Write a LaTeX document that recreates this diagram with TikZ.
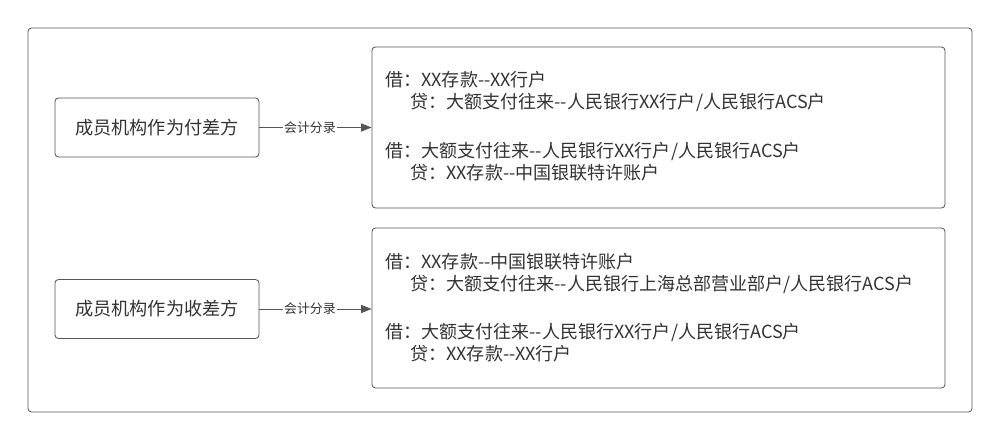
\documentclass[tikz,border=0pt]{standalone}
\usepackage{fontspec}
\setmainfont{Noto Sans CJK SC}
\usetikzlibrary{arrows.meta}
\definecolor{tx}{HTML}{333333}
\definecolor{ln}{HTML}{555555}
\newcommand{\dd}{{-}{-}}
\tikzset{
  boxst/.style={draw=ln,line width=0.7pt,rounded corners=3pt},
  txt/.style={anchor=west,inner sep=0,text=tx,font=\fontsize{15.4pt}{17pt}\selectfont},
  lab/.style={fill=white,inner sep=1pt,text=tx,font=\fontsize{11pt}{12pt}\selectfont},
  arr/.style={draw=ln,line width=0.7pt,-{Triangle[length=9pt,width=7pt]}}
}
\begin{document}
\begin{tikzpicture}[x=0.03cm,y=-0.03cm]
\useasboundingbox (0,0) rectangle (1000,441);
\draw[boxst] (28,28) rectangle (972,412);
\node[boxst,minimum width=204*0.03cm,minimum height=59*0.03cm,text=tx,font=\fontsize{15.5pt}{17pt}\selectfont] (a) at (157,127.5) {成员机构作为付差方};
\node[boxst,minimum width=204*0.03cm,minimum height=59*0.03cm,text=tx,font=\fontsize{15.5pt}{17pt}\selectfont] (b) at (157,309) {成员机构作为收差方};
\node[boxst,minimum width=573*0.03cm,minimum height=161*0.03cm] (c) at (658.5,127.5) {};
\node[boxst,minimum width=573*0.03cm,minimum height=160*0.03cm] (d) at (658.5,308) {};
\draw[arr] (a.east) -- node[lab,pos=0.45]{会计分录} (a.east -| c.west);
\draw[arr] (b.east) -- node[lab,pos=0.45]{会计分录} (b.east -| d.west);
\node[txt] (t1) at (385,80) {借：XX存款\dd XX行户};
\node[txt] (t2) at (410,102) {贷：大额支付往来\dd 人民银行XX行户/人民银行ACS户};
\node[txt] (t3) at (385,151) {借：大额支付往来\dd 人民银行XX行户/人民银行ACS户};
\node[txt] (t4) at (410,173) {贷：XX存款\dd 中国银联特许账户};
\node[txt] (t5) at (385,262) {借：XX存款\dd 中国银联特许账户};
\node[txt] (t6) at (410,284) {贷：大额支付往来\dd 人民银行上海总部营业部户/人民银行ACS户};
\node[txt] (t7) at (385,332) {借：大额支付往来\dd 人民银行XX行户/人民银行ACS户};
\node[txt] (t8) at (410,354) {贷：XX存款\dd XX行户};
\end{tikzpicture}
\end{document}
